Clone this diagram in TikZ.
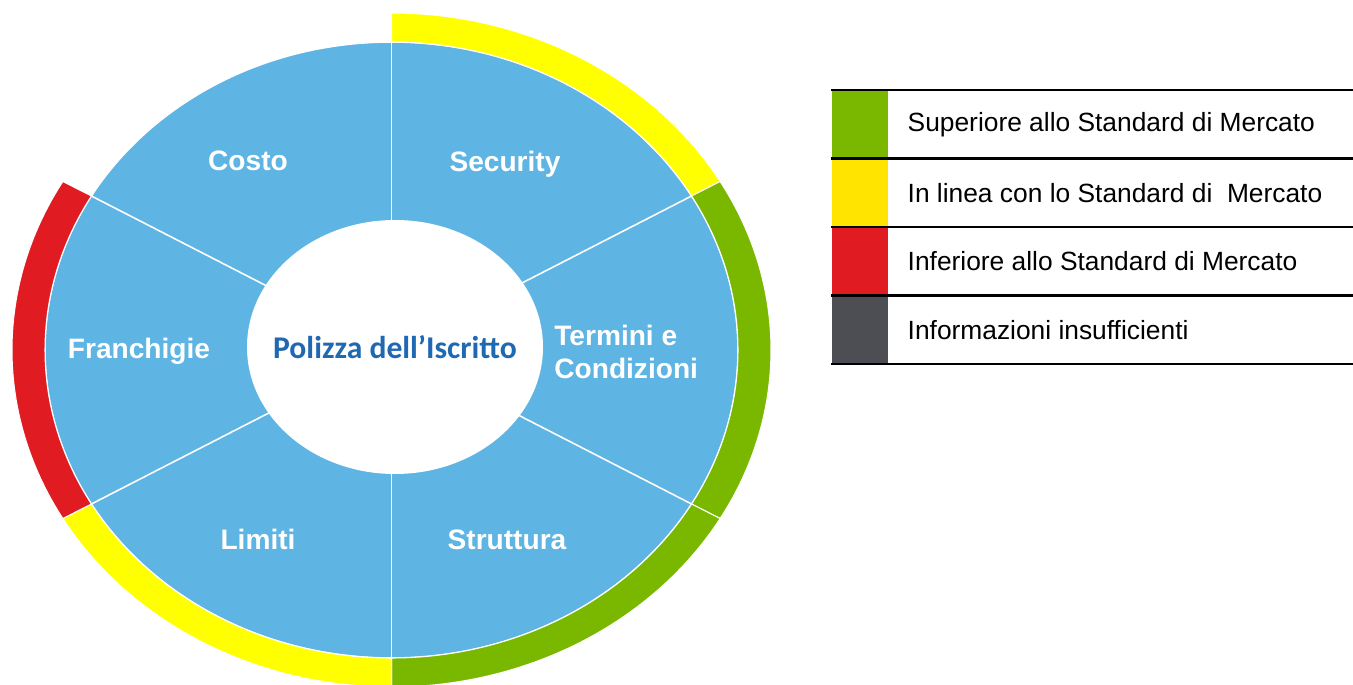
\documentclass[tikz,border=0pt]{standalone}
\usepackage{fontspec}
\setmainfont{Liberation Sans}
\newfontfamily\hubfont{Carlito}
\usetikzlibrary{positioning,calc}

\definecolor{wheelblue}{HTML}{5EB4E2}
\definecolor{ringyellow}{HTML}{FFFF00}
\definecolor{ringgreen}{HTML}{7AB800}
\definecolor{ringred}{HTML}{E11B22}
\definecolor{keyyellow}{HTML}{FFE400}
\definecolor{keygray}{HTML}{4D4E53}
\definecolor{hubblue}{HTML}{1F68B2}

\tikzset{
  divider/.style={draw=white, line width=0.9pt},
  band/.style={draw=white, line width=0.6pt},
  seglabel/.style={text=white, inner sep=0, font=\fontsize{16}{19}\selectfont\bfseries},
  keybox/.style={minimum width=1.12cm, minimum height=1.37cm, inner sep=0},
  keytext/.style={inner sep=0, font=\fontsize{15}{18}\selectfont},
  keyline/.style={line width=1.5pt},
}

\begin{document}
\begin{tikzpicture}[x=0.02cm, y=0.02cm]
    \useasboundingbox (0,0) rectangle (1353,684);
    \coordinate (c) at (391.5,334);

    % blue wheel
    \fill[wheelblue] (c) ellipse [x radius=346.5, y radius=308];
    \draw[divider] (c) ellipse [x radius=346.5, y radius=308];
    \foreach \a in {30,90,...,330}
        \draw[divider] (c) -- ($(c)+(\a:346.5 and 308)$);
    \fill[white] (395,337) ellipse [x radius=148, y radius=127];
    \node[text=hubblue, font=\hubfont\fontsize{18}{22}\selectfont\bfseries]
          (hub) at (395,337) {Polizza dell’Iscritto};

    % rating bands
    \fill[ringyellow, band] ($(c)+(90:379.5 and 337)$) arc[start angle=90, end angle=30, x radius=379.5, y radius=337]
        -- ($(c)+(30:346.5 and 308)$) arc[start angle=30, end angle=90, x radius=346.5, y radius=308] -- cycle;
    \fill[ringgreen, band] ($(c)+(30:379.5 and 337)$) arc[start angle=30, end angle=-30, x radius=379.5, y radius=337]
        -- ($(c)+(-30:346.5 and 308)$) arc[start angle=-30, end angle=30, x radius=346.5, y radius=308] -- cycle;
    \fill[ringgreen, band] ($(c)+(-30:379.5 and 337)$) arc[start angle=-30, end angle=-90, x radius=379.5, y radius=337]
        -- ($(c)+(-90:346.5 and 308)$) arc[start angle=-90, end angle=-30, x radius=346.5, y radius=308] -- cycle;
    \fill[ringyellow, band] ($(c)+(270:379.5 and 337)$) arc[start angle=270, end angle=210, x radius=379.5, y radius=337]
        -- ($(c)+(210:346.5 and 308)$) arc[start angle=210, end angle=270, x radius=346.5, y radius=308] -- cycle;
    \fill[ringred, band] ($(c)+(210:379.5 and 337)$) arc[start angle=210, end angle=150, x radius=379.5, y radius=337]
        -- ($(c)+(150:346.5 and 308)$) arc[start angle=150, end angle=210, x radius=346.5, y radius=308] -- cycle;

    % segment names
    \node[seglabel] (costo) at (248,523) {Costo};
    \node[seglabel] (security) at (505,520) {Security};
    \node[seglabel] (franchigie) at (139,333) {Franchigie};
    \node[seglabel, anchor=west, align=left] (termini) at (554,332) {Termini e\\Condizioni};
    \node[seglabel] (limiti) at (258,145) {Limiti};
    \node[seglabel] (struttura) at (507,144) {Struttura};

    % legend
    \node[keybox, fill=ringgreen] (k1) at (860,559.75) {};
    \node[keybox, fill=keyyellow] (k2) at (860,491.25) {};
    \node[keybox, fill=ringred] (k3) at (860,422.75) {};
    \node[keybox, fill=keygray] (k4) at (860,354.25) {};
    \node[keytext, right=0.38cm of k1] (t1) {Superiore allo Standard di Mercato};
    \node[keytext, right=0.38cm of k2] (t2) {In linea con lo Standard di\ \ Mercato};
    \node[keytext, right=0.38cm of k3] (t3) {Inferiore allo Standard di Mercato};
    \node[keytext, right=0.38cm of k4] (t4) {Informazioni insufficienti};
    \foreach \y in {594,525.5,457,388.5,320}
        \draw[keyline] (831,\y) -- (1353,\y);
\end{tikzpicture}
\end{document}
